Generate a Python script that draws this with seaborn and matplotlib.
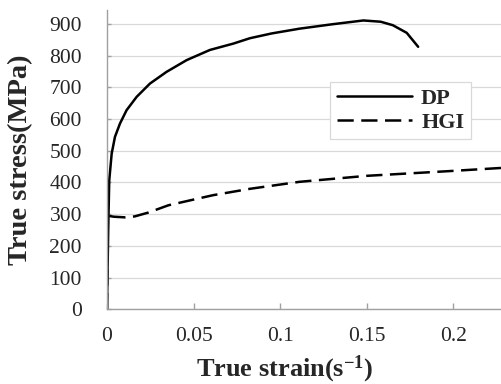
import matplotlib
matplotlib.use("Agg")
import matplotlib.pyplot as plt
import seaborn as sns
import pandas as pd

dp_strain = [0, 0.0004, 0.0008, 0.0013, 0.0027, 0.0046, 0.0075, 0.0113, 0.0171, 0.0248,
             0.0344, 0.046, 0.0594, 0.0729, 0.0825, 0.095, 0.111, 0.13, 0.148, 0.158,
             0.165, 0.173, 0.1796]
dp_stress = [0, 150, 280, 407, 491, 544, 586, 628, 670, 712,
             749, 786, 818, 838, 855, 870, 885, 899, 911, 907,
             896, 872, 828]
hgi_strain = [0, 0.0005, 0.004, 0.0104, 0.016, 0.0238, 0.0354, 0.0507, 0.0613, 0.0825,
              0.111, 0.15, 0.198, 0.228]
hgi_stress = [0, 295, 292, 290, 293, 305, 328, 347, 360, 380,
              402, 421, 436, 446]
x_ticks = [0, 0.05, 0.1, 0.15, 0.2]
x_tick_labels = ["0", "0.05", "0.1", "0.15", "0.2"]
y_ticks = [0, 100, 200, 300, 400, 500, 600, 700, 800, 900]

sns.set_theme(style="whitegrid")
plt.rcParams['font.family'] = ['Liberation Serif', 'DejaVu Serif']
plt.rcParams['mathtext.fontset'] = 'custom'
plt.rcParams['mathtext.rm'] = 'Liberation Serif'
plt.rcParams['mathtext.bf'] = 'Liberation Serif:bold'
plt.rcParams['mathtext.default'] = 'bf'

df_dp = pd.DataFrame({"strain": dp_strain, "stress": dp_stress})
df_hgi = pd.DataFrame({"strain": hgi_strain, "stress": hgi_stress})

fig = plt.figure(figsize=(5.02, 3.84), dpi=100)
ax = fig.add_axes([107/502, 1 - 309.3/384, 1 - 107/502, (309.3 - 10)/384])

sns.lineplot(data=df_dp, x="strain", y="stress", ax=ax, color="black", lw=1.8,
             label="DP", sort=False, estimator=None)
sns.lineplot(data=df_hgi, x="strain", y="stress", ax=ax, color="black", lw=1.8,
             linestyle=(0, (6.5, 3)), label="HGI", sort=False, estimator=None)

ax.set_xlim(0, 0.228)
ax.set_ylim(0, 944)
ax.set_xticks(x_ticks)
ax.set_xticklabels(x_tick_labels)
ax.set_yticks(y_ticks)

ax.grid(axis="x", visible=False)
ax.grid(axis="y", color="#d9d9d9", lw=0.9)
for s in ["top", "right"]:
    ax.spines[s].set_visible(False)
for s in ["left", "bottom"]:
    ax.spines[s].set_visible(True)
    ax.spines[s].set_color("#a0a0a0")
    ax.spines[s].set_linewidth(1.0)

ax.tick_params(axis="x", direction="in", length=4, width=1, color="#a0a0a0",
               labelsize=15.5, pad=13, bottom=True)
ax.tick_params(axis="y", direction="in", length=3, width=1, color="#a0a0a0",
               labelsize=15.5, pad=18, left=True)

ax.set_xlabel("True strain(s$\\mathbf{^{-1}}$)", fontsize=19, fontweight="bold")
ax.xaxis.set_label_coords((285 - 107) / 395, (309.3 - 354) / 299.3)
ax.set_ylabel("True stress(MPa)", fontsize=20.5, fontweight="bold")
ax.yaxis.set_label_coords((33 - 107) / 395, 0.5)

leg = ax.legend(loc="upper left", bbox_to_anchor=((330 - 107) / 395, (309.3 - 81.7) / 299.3),
                frameon=True, fancybox=False, edgecolor="#d9d9d9", framealpha=1,
                prop={"family": "Liberation Serif", "weight": "bold", "size": 16},
                handlelength=3.4, handletextpad=0.4, borderpad=0.3, labelspacing=0.15,
                borderaxespad=0)
leg.get_frame().set_linewidth(0.9)

fig.savefig("out.png", dpi=100)
